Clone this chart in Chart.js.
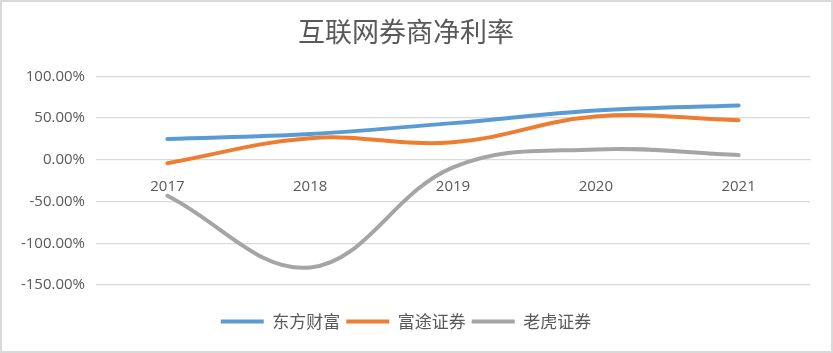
<!DOCTYPE html>
<html>
<head>
<meta charset="utf-8">
<script src="https://cdn.jsdelivr.net/npm/chart.js@4/dist/chart.umd.min.js"></script>
<style>
  html, body { margin: 0; padding: 0; background: #fff; }
  #wrap { width: 833px; height: 353px; box-sizing: border-box; border: 2px solid #d9d9d9; }
  #c { display: block; }
</style>
</head>
<body>
<div id="wrap"><canvas id="c" width="829" height="349"></canvas></div>
<script>
const years = ['2017', '2018', '2019', '2020', '2021'];
const dongfang = [25, 31, 44, 59, 65];
const futu = [-4, 26, 21, 52, 47.5];
const laohu = [-43, -129, -9, 12.5, 5.7];
const yTicks = [100, 50, 0, -50, -100, -150];

const cjk = '"Noto Sans CJK SC", "Noto Sans", sans-serif';
const num = '"Open Sans", "Noto Sans", sans-serif';

function line(label, data, color) {
    return {
        label,
        data,
        borderColor: color,
        backgroundColor: color,
        borderWidth: 4,
        borderCapStyle: 'round',
        tension: 0.38,
        pointRadius: 0,
        pointHoverRadius: 0,
        fill: false
    };
}

new Chart(document.getElementById('c'), {
    type: 'line',
    data: {
        labels: years,
        datasets: [
            line('东方财富', dongfang, '#5b9bd5'),
            line('富途证券', futu, '#ed7d31'),
            line('老虎证券', laohu, '#a5a5a5')
        ]
    },
    options: {
        responsive: false,
        animation: false,
        layout: { padding: { left: 0, right: 21, top: 0, bottom: 11 } },
        plugins: {
            title: {
                display: true,
                text: '互联网券商净利率',
                color: '#595959',
                font: { family: cjk, size: 27, weight: 'normal' },
                padding: { top: 14, bottom: 28 }
            },
            legend: {
                position: 'bottom',
                labels: {
                    color: '#595959',
                    font: { family: cjk, size: 17 },
                    usePointStyle: true,
                    pointStyle: 'line',
                    pointStyleWidth: 43,
                    boxHeight: 4,
                    padding: 6
                }
            },
            tooltip: { enabled: false }
        },
        scales: {
            x: {
                position: { y: 0 },
                offset: true,
                grid: { display: false },
                border: { display: true, color: '#d9d9d9', width: 1 },
                ticks: { color: '#595959', font: { family: num, size: 15 }, padding: 10, maxRotation: 0 }
            },
            gap: {
                type: 'category',
                position: 'bottom',
                grid: { display: false },
                border: { display: false },
                ticks: { display: false },
                afterFit: s => { s.height = 22; }
            },
            y: {
                min: -150,
                max: 100,
                afterFit: s => { s.width = 94; },
                afterBuildTicks: s => { s.ticks = yTicks.map(v => ({ value: v })); },
                grid: { color: '#d9d9d9', lineWidth: 1.3, drawTicks: false },
                border: { display: false },
                ticks: {
                    color: '#595959',
                    font: { family: num, size: 15 },
                    padding: 11,
                    callback: v => v.toFixed(2) + '%'
                }
            }
        }
    }
});
</script>
</body>
</html>
